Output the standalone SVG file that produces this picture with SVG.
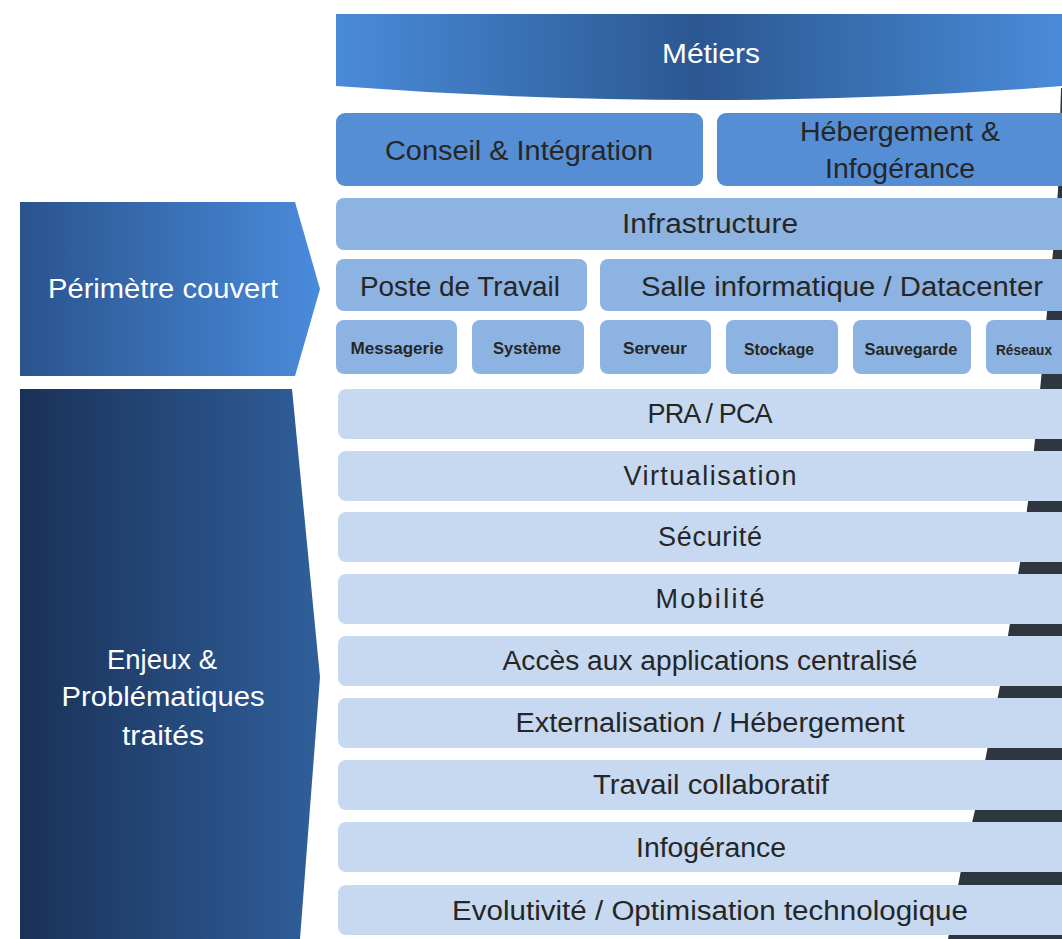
<svg xmlns="http://www.w3.org/2000/svg" width="1062" height="939" viewBox="0 0 1062 939">
<defs>
<linearGradient id="gMet" x1="0" y1="0" x2="1" y2="0">
<stop offset="0" stop-color="#4a8bd9"/><stop offset="0.5" stop-color="#2b5791"/><stop offset="1" stop-color="#4a8bd9"/>
</linearGradient>
<linearGradient id="gPer" x1="0" y1="0" x2="1" y2="0">
<stop offset="0" stop-color="#2a538d"/><stop offset="1" stop-color="#4a8bdc"/>
</linearGradient>
<linearGradient id="gEnj" x1="0" y1="0" x2="1" y2="0">
<stop offset="0" stop-color="#1a3157"/><stop offset="1" stop-color="#2f5f9b"/>
</linearGradient>
<style>
.t{font-family:"Liberation Sans","Open Sans",sans-serif;text-anchor:middle;fill:#262626;font-size:27px}
.w{fill:#ffffff}
.l1{fill:#558ed5}
.l2{fill:#8db3e2}
.l3{fill:#c6d9f1}
.sm{font-size:16px;font-weight:bold}
</style>
</defs>
<rect width="1062" height="939" fill="#ffffff"/>
<g id="shadow">
<polygon points="1061,88 1058,190 1053,252 1047,312 1041,380 1035,440 1028,502 1020,563 1010,623 1000,686 988,746 976,806 962,865 948,939 1062,939 1062,88" fill="#2e3640"/>
</g>
<g id="metiers">
<path d="M336,14 H1062 V86 Q711,114 336,86 Z" fill="url(#gMet)"/>
<text class="t w" x="711" y="63" textLength="98" lengthAdjust="spacingAndGlyphs">Métiers</text>
</g>
<g id="conseil">
<rect class="l1" x="336" y="113" width="367" height="73" rx="9"/>
<text class="t" x="519" y="160" textLength="268" lengthAdjust="spacingAndGlyphs">Conseil &amp; Intégration</text>
</g>
<g id="hebergement">
<rect class="l1" x="717" y="113" width="380" height="73" rx="9"/>
<text class="t" x="900" y="141" textLength="200" lengthAdjust="spacingAndGlyphs">Hébergement &amp;</text>
<text class="t" x="900" y="178" textLength="150" lengthAdjust="spacingAndGlyphs">Infogérance</text>
</g>
<g id="infrastructure">
<rect class="l2" x="336" y="198" width="740" height="52" rx="8"/>
<text class="t" x="710" y="233" textLength="176" lengthAdjust="spacingAndGlyphs">Infrastructure</text>
</g>
<g id="poste">
<rect class="l2" x="336" y="259" width="251" height="52" rx="8"/>
<text class="t" x="460" y="296" textLength="200" lengthAdjust="spacingAndGlyphs">Poste de Travail</text>
</g>
<g id="salle">
<rect class="l2" x="600" y="259" width="476" height="52" rx="8"/>
<text class="t" x="842" y="296" textLength="402" lengthAdjust="spacingAndGlyphs">Salle informatique / Datacenter</text>
</g>
<g id="messagerie"><rect class="l2" x="336" y="320" width="121" height="54" rx="8"/><text class="t sm" x="397" y="354" textLength="93" lengthAdjust="spacingAndGlyphs">Messagerie</text></g>
<g id="systeme"><rect class="l2" x="472" y="320" width="112" height="54" rx="8"/><text class="t sm" x="527" y="354" textLength="68" lengthAdjust="spacingAndGlyphs">Système</text></g>
<g id="serveur"><rect class="l2" x="600" y="320" width="111" height="54" rx="8"/><text class="t sm" x="655" y="354" textLength="64" lengthAdjust="spacingAndGlyphs">Serveur</text></g>
<g id="stockage"><rect class="l2" x="726" y="320" width="112" height="54" rx="8"/><text class="t sm" x="779" y="355" textLength="70" lengthAdjust="spacingAndGlyphs">Stockage</text></g>
<g id="sauvegarde"><rect class="l2" x="853" y="320" width="118" height="54" rx="8"/><text class="t sm" x="911" y="355" textLength="93" lengthAdjust="spacingAndGlyphs">Sauvegarde</text></g>
<g id="reseaux"><rect class="l2" x="986" y="320" width="110" height="54" rx="8"/><text class="t sm" x="996" y="355" style="text-anchor:start;font-size:15px" textLength="56" lengthAdjust="spacingAndGlyphs">Réseaux</text></g>
<g id="perimetre">
<polygon points="20,202 295,202 320,289 295,376 20,376" fill="url(#gPer)"/>
<text class="t w" x="163" y="298" textLength="230" lengthAdjust="spacingAndGlyphs">Périmètre couvert</text>
</g>
<g id="enjeux">
<polygon points="20,389 292,389 320,677 300,939 20,939" fill="url(#gEnj)"/>
<text class="t w" x="162" y="669" textLength="110" lengthAdjust="spacingAndGlyphs">Enjeux &amp;</text>
<text class="t w" x="163" y="706" textLength="203" lengthAdjust="spacingAndGlyphs">Problématiques</text>
<text class="t w" x="163" y="745" textLength="82" lengthAdjust="spacingAndGlyphs">traités</text>
</g>
<g id="pra"><rect class="l3" x="338" y="389" width="740" height="50" rx="8"/><text class="t" x="710" y="423" textLength="125" lengthAdjust="spacing">PRA / PCA</text></g>
<g id="virtualisation"><rect class="l3" x="338" y="451" width="740" height="50" rx="8"/><text class="t" x="710" y="485" textLength="173" lengthAdjust="spacing">Virtualisation</text></g>
<g id="securite"><rect class="l3" x="338" y="512" width="740" height="50" rx="8"/><text class="t" x="710" y="546" textLength="104" lengthAdjust="spacing">Sécurité</text></g>
<g id="mobilite"><rect class="l3" x="338" y="574" width="740" height="50" rx="8"/><text class="t" x="710" y="608" textLength="109" lengthAdjust="spacing">Mobilité</text></g>
<g id="acces"><rect class="l3" x="338" y="636" width="740" height="50" rx="8"/><text class="t" x="710" y="670" textLength="415" lengthAdjust="spacingAndGlyphs">Accès aux applications centralisé</text></g>
<g id="externalisation"><rect class="l3" x="338" y="698" width="740" height="50" rx="8"/><text class="t" x="710" y="732" textLength="389" lengthAdjust="spacingAndGlyphs">Externalisation / Hébergement</text></g>
<g id="collaboratif"><rect class="l3" x="338" y="760" width="740" height="50" rx="8"/><text class="t" x="711" y="794" textLength="236" lengthAdjust="spacingAndGlyphs">Travail collaboratif</text></g>
<g id="infogerance"><rect class="l3" x="338" y="822" width="740" height="50" rx="8"/><text class="t" x="711" y="857" textLength="150" lengthAdjust="spacingAndGlyphs">Infogérance</text></g>
<g id="evolutivite"><rect class="l3" x="338" y="885" width="740" height="50" rx="8"/><text class="t" x="710" y="920" textLength="516" lengthAdjust="spacingAndGlyphs">Evolutivité / Optimisation technologique</text></g>
<g id="connectors"/>
</svg>
